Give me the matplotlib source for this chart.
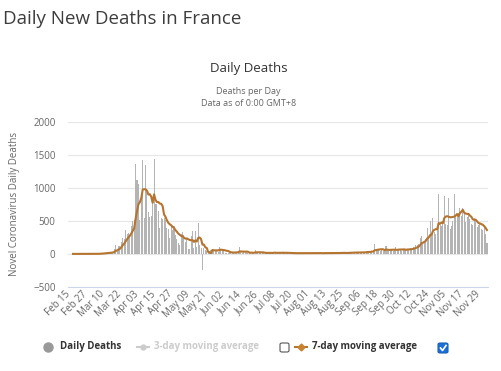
import numpy as np
import matplotlib
matplotlib.use('Agg')
import matplotlib.pyplot as plt
import matplotlib.transforms as mtransforms
from matplotlib.lines import Line2D
from matplotlib.patches import FancyBboxPatch

plt.rcParams['font.family'] = ['Open Sans', 'DejaVu Sans']

# daily deaths, one value per day starting Feb 15
daily_deaths = [
    0, 0, 0, 0, 0, 0, 0, 0, 1, 0,
    0, 0, 0, 1, 1, 0, 2, 3, 2, 6,
    9, 14, 15, 13, 18, 12, 36, 21, 27, 69,
    128, 78, 112, 112, 186, 240, 231, 365, 299, 319,
    292, 418, 499, 509, 1355, 1120, 1053, 518, 833, 1417,
    541, 1341, 987, 635, 561, 574, 762, 1438, 753, 761,
    642, 395, 547, 531, 544, 516, 389, 369, 242, 437,
    367, 427, 289, 218, 166, 135, 306, 330, 278, 178,
    243, 80, 70, 263, 348, 83, 351, 104, 460, 130,
    95, -240, 85, 60, 50, 35, 45, 65, 70, 55,
    50, 52, 31, 107, 81, 44, 46, 13, 9, 12,
    23, 27, 29, 28, 24, 10, 29, 111, 28, 14,
    29, 9, 24, 13, 14, 30, 14, 11, 55, 30,
    21, 17, 15, 18, 7, 12, 25, 14, 20, 10,
    14, 16, 32, 6, 17, 12, 14, 21, 25, 14,
    18, 9, 4, 10, 11, 14, 18, 12, 8, 6,
    15, 14, 11, 9, 12, 17, 5, 7, 19, 13,
    10, 8, 12, 15, 11, 10, 16, 9, 14, 13,
    8, 17, 11, 16, 10, 20, 12, 9, 18, 14,
    21, 15, 11, 19, 24, 16, 20, 25, 18, 30,
    14, 22, 28, 17, 33, 25, 31, 40, 27, 35,
    50, 46, 150, 58, 62, 70, 50, 54, 45, 60,
    120, 52, 40, 58, 66, 48, 64, 105, 55, 62,
    70, 48, 75, 58, 66, 80, 72, 85, 60, 110,
    95, 130, 140, 150, 240, 270, 160, 190, 230, 390,
    250, 500, 300, 545, 330, 300, 380, 910, 430, 420,
    470, 880, 450, 430, 850, 380, 420, 500, 910, 560,
    600, 620, 700, 580, 690, 600, 480, 560, 620, 520,
    450, 430, 540, 500, 400, 430, 470, 380, 360, 410,
    300, 170,
]

# 7-day moving average as drawn on the chart
avg_7day = [
    0, 0, 0, 0, 0, 0, 0, 0, 0.1, 0.1,
    0.1, 0.1, 0.1, 0.3, 0.4, 0.3, 0.6, 1.0, 1.3, 2.1,
    3.3, 5.1, 7.3, 8.9, 11, 12.4, 16.7, 18.4, 20.3, 28,
    44, 53, 67, 78, 102, 132, 155, 189, 221, 250,
    276, 309, 346, 386, 527, 645, 749, 782, 841, 972,
    977, 975, 956, 896, 902, 865, 772, 900, 816, 783,
    784, 761, 757, 724, 596, 562, 509, 470, 448, 433,
    409, 392, 360, 336, 307, 291, 273, 267, 246, 230,
    234, 221, 212, 206, 209, 181, 205, 186, 240, 248,
    224, 140, 141, 99, 91, 31, 19, 14, 59, 54,
    53, 53, 53, 61, 64, 60, 59, 53, 47, 45,
    33, 25, 23, 20, 22, 22, 24, 37, 37, 35,
    35, 33, 35, 33, 19, 19, 19, 16, 23, 24,
    25, 25, 23, 24, 23, 17, 16, 15, 16, 15,
    15, 16, 19, 16, 16, 15, 16, 17, 18, 16,
    17, 16, 15, 14, 13, 11, 12, 11, 11, 11,
    12, 12, 12, 11, 11, 12, 12, 11, 11, 12,
    12, 11, 11, 12, 13, 11, 12, 12, 12, 13,
    12, 12, 13, 13, 13, 14, 13, 14, 14, 14,
    15, 16, 14, 15, 17, 17, 18, 19, 19, 22,
    21, 21, 22, 22, 23, 24, 24, 28, 29, 30,
    34, 36, 54, 58, 61, 67, 69, 70, 70, 57,
    66, 64, 60, 61, 63, 63, 64, 62, 62, 65,
    67, 65, 68, 68, 62, 66, 67, 69, 71, 76,
    81, 90, 99, 110, 132, 162, 169, 183, 197, 233,
    247, 284, 289, 344, 364, 374, 372, 466, 456, 474,
    463, 541, 563, 570, 561, 554, 554, 559, 563, 579,
    603, 570, 616, 639, 666, 621, 610, 604, 604, 579,
    560, 523, 514, 517, 494, 467, 460, 450, 440, 421,
    393, 360,
]

tick_labels = ['Feb 15', 'Feb 27', 'Mar 10', 'Mar 22', 'Apr 03', 'Apr 15', 'Apr 27',
               'May 09', 'May 21', 'Jun 02', 'Jun 14', 'Jun 26', 'Jul 08', 'Jul 20',
               'Aug 01', 'Aug 13', 'Aug 25', 'Sep 06', 'Sep 18', 'Sep 30', 'Oct 12',
               'Oct 24', 'Nov 05', 'Nov 17', 'Nov 29']
tick_step = 12
y_ticks = [-500, 0, 500, 1000, 1500, 2000]

W, H = 501, 371
def fx(px):
    return px / W
def fy(py):
    return 1 - py / H

days = np.arange(len(daily_deaths))

fig = plt.figure(figsize=(W / 100, H / 100), dpi=100)
ax = fig.add_axes([fx(68), fy(287), 420 / W, 165.5 / H])

ax.bar(days, daily_deaths, width=0.72, color='#b4b4b4', linewidth=0, zorder=2)
ax.plot(days, avg_7day, color='#b5742f', lw=1.5, zorder=3)

ax.set_xlim(-3.5, 291.7)
ax.set_ylim(-500, 2000)
ax.set_yticks(y_ticks)
ax.grid(axis='y', color='#e6e6e6', lw=0.8)
ax.set_axisbelow(True)
for s in ['top', 'right', 'left']:
    ax.spines[s].set_visible(False)
ax.spines['bottom'].set_color('#ccd6eb')
ax.spines['bottom'].set_linewidth(0.8)

ax.tick_params(axis='y', length=0, pad=9, labelsize=7, labelcolor='#666666')
ax.set_xticks(days[::tick_step][:len(tick_labels)])
ax.set_xticklabels(tick_labels)
ax.tick_params(axis='x', length=0, pad=4, labelsize=7, labelcolor='#666666')
shift = mtransforms.ScaledTranslation(-4 / 100, 0, fig.dpi_scale_trans)
for lab in ax.get_xticklabels():
    lab.set_rotation(45)
    lab.set_ha('right')
    lab.set_va('center')
    lab.set_rotation_mode('anchor')
    lab.set_transform(lab.get_transform() + shift)

ax.set_ylabel('Novel Coronavirus Daily Deaths', fontsize=7, color='#666666')
ax.yaxis.set_label_coords(fx(20.5 - 68) / (420 / W), 0.5)

# titles
fig.text(fx(3), fy(24), 'Daily New Deaths in France', fontsize=13.5, color='#3d3d3d',
         va='baseline', ha='left')
fig.text(fx(248.5), fy(72), 'Daily Deaths', fontsize=9.5, color='#333333',
         va='baseline', ha='center')
fig.text(fx(248.5), fy(94.5), 'Deaths per Day', fontsize=6.5, color='#666666',
         va='baseline', ha='center')
fig.text(fx(248.5), fy(105.5), 'Data as of 0:00 GMT+8', fontsize=6.5, color='#666666',
         va='baseline', ha='center')

# legend
ly = fy(347)
fig.add_artist(Line2D([fx(48)], [ly], marker='o', markersize=6.5, color='#999999',
                      transform=fig.transFigure))
fig.text(fx(60), ly, 'Daily Deaths', fontsize=7, fontweight='bold', color='#333333',
         va='center', ha='left')

fig.add_artist(Line2D([fx(137), fx(149)], [ly, ly], color='#cccccc', lw=1.5,
                      transform=fig.transFigure))
fig.add_artist(Line2D([fx(143)], [ly], marker='o', markersize=3.5, color='#cccccc',
                      transform=fig.transFigure))
fig.text(fx(154), ly, '3-day moving average', fontsize=7, fontweight='bold', color='#cccccc',
         va='center', ha='left')
fig.add_artist(FancyBboxPatch((fx(280), fy(352)), 9 / W, 9 / H,
                              boxstyle='round,pad=0,rounding_size=0.004',
                              facecolor='white', edgecolor='#555555', lw=0.8,
                              transform=fig.transFigure))

fig.add_artist(Line2D([fx(295), fx(307)], [ly, ly], color='#b5742f', lw=1.5,
                      transform=fig.transFigure))
fig.add_artist(Line2D([fx(301)], [ly], marker='D', markersize=3.5, color='#c8822f',
                      transform=fig.transFigure))
fig.text(fx(312), ly, '7-day moving average', fontsize=7, fontweight='bold', color='#333333',
         va='center', ha='left')
fig.add_artist(FancyBboxPatch((fx(438), fy(353)), 10 / W, 10 / H,
                              boxstyle='round,pad=0,rounding_size=0.004',
                              facecolor='#1a6fd6', edgecolor='#1a5fb8', lw=0.8,
                              transform=fig.transFigure))
fig.add_artist(Line2D([fx(440.5), fx(442.5), fx(446)], [fy(348), fy(350.5), fy(345.5)],
                      color='white', lw=1.2, transform=fig.transFigure))

fig.savefig('out.png', dpi=100)
